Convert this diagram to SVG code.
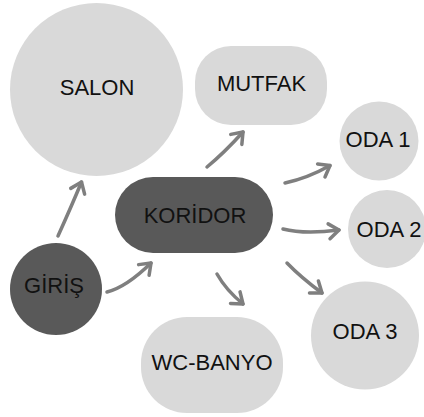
<svg xmlns="http://www.w3.org/2000/svg" width="424" height="417" viewBox="0 0 424 417">
  <defs>
    <style>
      .light { fill: #d9d9d9; }
      .dark { fill: #595959; }
      .lbl { font-family: "Liberation Sans", Arial, sans-serif; font-size: 22px; fill: #111111; text-anchor: middle; }
      .conn { fill: none; stroke: #7f7f7f; stroke-width: 3.5; stroke-linecap: round; marker-end: url(#ah); }
    </style>
    <marker id="ah" markerUnits="userSpaceOnUse" markerWidth="24" markerHeight="24" viewBox="-14 -12 24 24" refX="0" refY="0" orient="auto" overflow="visible">
      <path d="M-10,-7.5 L0,0 L-10,7.5" fill="none" stroke="#7f7f7f" stroke-width="3.5" stroke-linecap="round" stroke-linejoin="round"/>
    </marker>
  </defs>
  <rect width="424" height="417" fill="#ffffff"/>

  <g id="salon">
    <circle class="light" cx="96.5" cy="89.5" r="86.5"/>
    <text class="lbl" x="97" y="95">SALON</text>
  </g>
  <g id="mutfak">
    <rect class="light" x="195" y="46" width="132" height="79" rx="36"/>
    <text class="lbl" x="261.5" y="91">MUTFAK</text>
  </g>
  <g id="oda1">
    <circle class="light" cx="379" cy="141" r="39.5"/>
    <text class="lbl" x="378" y="147">ODA 1</text>
  </g>
  <g id="oda2">
    <circle class="light" cx="387" cy="229" r="39"/>
    <text class="lbl" x="389" y="237">ODA 2</text>
  </g>
  <g id="oda3">
    <circle class="light" cx="365" cy="335.5" r="54"/>
    <text class="lbl" x="365" y="339">ODA 3</text>
  </g>
  <g id="wc-banyo">
    <rect class="light" x="141" y="317" width="142" height="96" rx="46"/>
    <text class="lbl" x="212" y="370">WC-BANYO</text>
  </g>
  <g id="giris">
    <circle class="dark" cx="56" cy="289" r="46"/>
    <text class="lbl" x="54" y="293">GİRİŞ</text>
  </g>
  <g id="koridor">
    <rect class="dark" x="115" y="177" width="158" height="76" rx="38"/>
    <text class="lbl" x="195" y="223">KORİDOR</text>
  </g>

  <g id="connectors">
    <path class="conn" d="M58,236 Q72,205 81.5,182"/>
    <path class="conn" d="M107,292 Q126.5,287 151,263"/>
    <path class="conn" d="M207,167 Q224,153 243,132"/>
    <path class="conn" d="M285,183 Q308,178 330,165.5"/>
    <path class="conn" d="M283,229 Q304.5,234.5 339,230"/>
    <path class="conn" d="M287,263 Q301,277.5 322,293"/>
    <path class="conn" d="M217,274 Q226,290 243,304"/>
  </g>
</svg>
